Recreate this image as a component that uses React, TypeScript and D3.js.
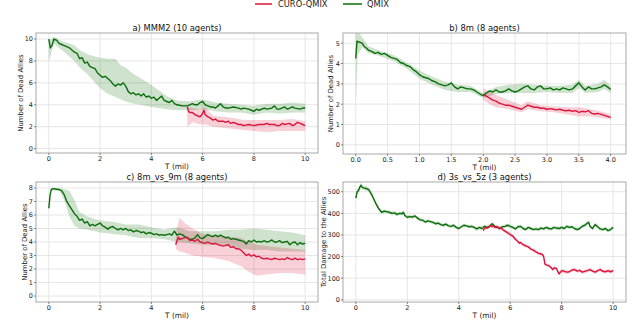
import React from 'react';
import * as d3 from 'd3';

const GREEN = '#0a6e0a';
const RED = '#dc143c';
const FONT = 'DejaVu Sans, sans-serif';

const seriesNames = ['CURO-QMIX', 'QMIX'];
const titles = ['a) MMM2 (10 agents)', 'b) 8m (8 agents)', 'c) 8m_vs_9m (8 agents)', 'd) 3s_vs_5z (3 agents)'];
const yLabels = ['Number of Dead Allies', 'Number of Dead Allies', 'Number of Dead Allies', 'Total Damage to the Allies'];
const xTicks10 = [0, 2, 4, 6, 8, 10];
const xTicks4 = [0, 0.5, 1, 1.5, 2, 2.5, 3, 3.5, 4];
const yTicksA = [0, 2, 4, 6, 8, 10];
const yTicksB = [0, 1, 2, 3, 4, 5];
const yTicksC = [0, 1, 2, 3, 4, 5, 6, 7, 8];
const yTicksD = [0, 100, 200, 300, 400, 500];

// Panel a: [T, mean]
const aQmix = [[0,10],[0.06,9.2],[0.12,9.4],[0.2,10.0],[0.3,9.9],[0.4,9.6],[0.5,9.5],[0.6,9.4],[0.7,9.3],[0.8,9.2],[0.9,9.0],[1.0,8.8],[1.1,8.7],[1.2,8.2],[1.3,8.3],[1.4,7.8],[1.5,7.9],[1.6,7.5],[1.7,7.4],[1.8,7.3],[1.9,6.9],[2.0,6.7],[2.1,6.5],[2.2,6.6],[2.3,6.4],[2.4,6.2],[2.5,5.9],[2.6,5.7],[2.7,5.9],[2.8,5.8],[2.9,6.0],[3.0,5.7],[3.1,5.2],[3.2,5.0],[3.3,5.1],[3.4,4.9],[3.5,5.0],[3.6,4.8],[3.7,5.0],[3.8,4.7],[3.9,4.8],[4.0,4.6],[4.1,4.7],[4.2,4.4],[4.3,4.6],[4.4,4.8],[4.5,4.4],[4.6,4.3],[4.7,4.2],[4.8,4.4],[4.9,4.1],[5.0,4.0],[5.2,3.9],[5.4,3.9],[5.5,4.0],[5.6,4.1],[5.7,4.0],[5.8,4.0],[5.9,4.2],[6.0,4.3],[6.1,4.0],[6.2,3.9],[6.3,3.8],[6.4,3.8],[6.5,3.7],[6.6,3.9],[6.7,4.1],[6.8,3.8],[6.9,3.7],[7.0,3.7],[7.2,3.8],[7.4,3.7],[7.5,3.6],[7.6,3.7],[7.8,3.6],[7.9,3.5],[8.0,3.4],[8.1,3.6],[8.2,3.5],[8.4,3.7],[8.5,3.6],[8.7,3.7],[8.8,3.9],[8.9,3.6],[9.0,3.6],[9.2,3.8],[9.3,3.6],[9.4,3.7],[9.5,3.8],[9.6,3.7],[9.8,3.6],[9.9,3.7],[10.0,3.7]];
// [T, low, high]
const aQmixBand = [[0,8.0,10],[0.06,8.4,9.9],[0.2,9.6,10.2],[0.5,9.0,9.8],[0.8,8.4,9.6],[1.0,8.0,9.4],[1.2,7.4,9.0],[1.5,6.8,8.6],[1.8,6.0,8.4],[2.0,5.5,8.3],[2.3,5.0,8.2],[2.6,4.7,8.2],[2.8,4.5,7.6],[3.0,4.3,7.4],[3.3,4.1,6.8],[3.6,4.0,6.4],[4.0,3.8,5.8],[4.3,3.7,5.3],[4.6,3.6,4.8],[5.0,3.5,4.4],[5.5,3.5,4.3],[6.0,3.6,4.5],[6.5,3.4,4.2],[7.0,3.3,4.1],[7.5,3.3,4.0],[8.0,3.1,3.9],[8.5,3.3,4.1],[9.0,3.2,4.1],[9.5,3.3,4.2],[10,3.3,4.1]];
const aCuro = [[5.4,3.8],[5.45,3.4],[5.5,3.3],[5.6,3.3],[5.7,3.1],[5.8,3.0],[5.9,2.9],[6.0,3.2],[6.05,3.5],[6.1,3.1],[6.2,2.9],[6.3,2.8],[6.4,2.6],[6.5,2.7],[6.6,2.5],[6.8,2.5],[6.9,2.4],[7.0,2.5],[7.1,2.3],[7.2,2.4],[7.4,2.2],[7.5,2.2],[7.6,2.1],[7.8,2.2],[8.0,2.1],[8.2,2.2],[8.4,2.2],[8.5,2.3],[8.6,2.2],[8.8,2.2],[8.9,2.1],[9.0,2.1],[9.1,2.3],[9.2,2.2],[9.4,2.3],[9.5,2.1],[9.6,2.2],[9.7,2.4],[9.8,2.3],[9.9,2.2],[10,2.1]];
const aCuroBand = [[5.4,2.0,3.9],[5.6,2.4,3.7],[5.9,2.2,3.6],[6.1,2.2,3.8],[6.4,2.0,3.0],[6.8,1.9,2.9],[7.2,1.8,2.8],[7.6,1.7,2.6],[8.0,1.6,2.6],[8.5,1.5,2.6],[9.0,1.6,2.6],[9.5,1.6,2.7],[10,1.6,2.5]];

// Panel b
const bQmix = [[0,4.25],[0.02,5.1],[0.06,5.05],[0.1,5.0],[0.13,4.85],[0.17,4.75],[0.2,4.65],[0.25,4.6],[0.3,4.5],[0.35,4.55],[0.4,4.45],[0.45,4.5],[0.5,4.4],[0.55,4.3],[0.6,4.25],[0.65,4.2],[0.7,4.05],[0.75,4.0],[0.8,3.9],[0.85,3.85],[0.9,3.7],[0.95,3.6],[1.0,3.45],[1.05,3.35],[1.1,3.3],[1.15,3.25],[1.2,3.15],[1.25,3.1],[1.3,3.0],[1.35,2.95],[1.4,2.9],[1.45,2.95],[1.5,3.05],[1.55,2.85],[1.6,2.75],[1.65,2.85],[1.7,2.8],[1.75,2.75],[1.8,2.75],[1.85,2.7],[1.9,2.6],[1.95,2.5],[2.0,2.42],[2.05,2.55],[2.1,2.65],[2.15,2.6],[2.2,2.7],[2.25,2.6],[2.3,2.6],[2.35,2.65],[2.4,2.75],[2.45,2.65],[2.5,2.6],[2.55,2.65],[2.6,2.75],[2.65,2.85],[2.7,2.9],[2.75,2.75],[2.8,2.7],[2.85,2.85],[2.9,2.9],[2.95,2.75],[3.0,2.75],[3.05,2.8],[3.1,2.7],[3.15,2.75],[3.2,2.7],[3.25,2.8],[3.3,2.75],[3.35,2.7],[3.4,2.75],[3.45,2.9],[3.5,3.05],[3.55,2.85],[3.6,2.7],[3.65,2.85],[3.7,2.75],[3.75,2.75],[3.8,2.8],[3.85,2.85],[3.9,2.95],[3.95,2.85],[4.0,2.72]];
const bQmixBand = [[0,2.0,5.6],[0.03,4.4,5.6],[0.1,4.8,5.3],[0.2,4.5,4.85],[0.4,4.35,4.6],[0.6,4.1,4.4],[0.8,3.75,4.05],[1.0,3.25,3.65],[1.2,2.95,3.35],[1.4,2.7,3.1],[1.6,2.6,2.95],[1.8,2.6,2.9],[2.0,2.3,2.55],[2.2,2.5,2.85],[2.4,2.55,2.95],[2.6,2.55,3.0],[2.8,2.55,2.95],[3.0,2.6,2.9],[3.2,2.55,2.9],[3.4,2.55,2.95],[3.5,2.8,3.2],[3.6,2.55,2.9],[3.8,2.6,3.0],[3.9,2.75,3.2],[4.0,2.55,2.9]];
const bCuro = [[2.0,2.45],[2.05,2.4],[2.1,2.3],[2.15,2.2],[2.2,2.15],[2.25,2.05],[2.3,2.0],[2.35,1.95],[2.4,1.95],[2.45,1.9],[2.5,1.85],[2.55,1.8],[2.6,1.75],[2.65,1.85],[2.7,1.95],[2.75,1.9],[2.8,1.85],[2.85,1.85],[2.9,1.8],[2.95,1.8],[3.0,1.75],[3.05,1.78],[3.1,1.75],[3.15,1.72],[3.2,1.75],[3.25,1.7],[3.3,1.68],[3.35,1.7],[3.4,1.65],[3.45,1.68],[3.5,1.6],[3.55,1.65],[3.6,1.62],[3.65,1.68],[3.7,1.55],[3.75,1.52],[3.8,1.55],[3.85,1.5],[3.9,1.45],[3.95,1.4],[4.0,1.35]];
const bCuroBand = [[2.0,2.2,2.8],[2.1,2.0,2.6],[2.2,1.85,2.45],[2.4,1.75,2.2],[2.6,1.6,1.95],[2.7,1.75,2.15],[2.9,1.65,1.95],[3.1,1.6,1.9],[3.3,1.5,1.85],[3.5,1.4,1.85],[3.7,1.4,1.75],[3.9,1.3,1.6],[4.0,1.25,1.5]];

// Panel c
const cQmix = [[0,6.5],[0.05,7.5],[0.1,7.9],[0.2,7.95],[0.3,7.9],[0.4,7.88],[0.5,7.8],[0.6,7.5],[0.7,7.0],[0.8,6.7],[0.9,6.4],[1.0,6.1],[1.1,5.9],[1.2,5.6],[1.3,5.7],[1.4,5.4],[1.5,5.5],[1.6,5.2],[1.7,5.3],[1.8,5.2],[1.9,5.3],[2.0,5.4],[2.1,5.2],[2.2,5.1],[2.3,4.95],[2.4,5.1],[2.5,5.15],[2.6,5.0],[2.7,4.9],[2.8,5.0],[2.9,4.9],[3.0,5.0],[3.1,4.85],[3.2,4.9],[3.3,4.75],[3.4,4.85],[3.5,4.8],[3.6,4.7],[3.7,4.75],[3.8,4.6],[3.9,4.7],[4.0,4.65],[4.1,4.55],[4.2,4.6],[4.3,4.5],[4.4,4.55],[4.5,4.5],[4.6,4.55],[4.7,4.6],[4.8,4.5],[4.9,4.8],[5.0,4.5],[5.1,4.6],[5.2,4.55],[5.3,4.4],[5.4,4.3],[5.5,4.2],[5.6,4.2],[5.7,4.3],[5.8,4.55],[5.9,4.3],[6.0,4.25],[6.1,4.4],[6.2,4.55],[6.3,4.45],[6.4,4.4],[6.5,4.5],[6.6,4.4],[6.7,4.5],[6.8,4.4],[6.9,4.3],[7.0,4.35],[7.1,4.2],[7.2,4.25],[7.3,4.2],[7.4,4.15],[7.5,4.1],[7.6,4.05],[7.7,3.85],[7.8,4.1],[7.9,4.0],[8.0,4.15],[8.1,4.0],[8.2,4.05],[8.3,4.0],[8.4,4.1],[8.5,4.0],[8.6,4.05],[8.7,4.15],[8.8,4.0],[8.9,4.0],[9.0,4.1],[9.1,3.95],[9.2,4.0],[9.3,4.05],[9.4,3.8],[9.5,3.95],[9.6,4.0],[9.7,3.8],[9.8,3.95],[9.9,3.85],[10,3.9]];
const cQmixBand = [[0,6.4,6.7],[0.1,7.8,8.0],[0.4,7.8,8.0],[0.6,7.1,7.9],[0.8,5.9,7.8],[1.0,5.2,7.1],[1.2,5.0,6.2],[1.5,4.9,5.9],[1.8,4.8,5.7],[2.0,4.7,5.6],[2.5,4.6,5.5],[3.0,4.5,5.3],[3.5,4.3,5.3],[4.0,4.3,5.1],[4.5,4.2,4.9],[5.0,4.0,5.1],[5.5,3.9,4.8],[6.0,3.8,4.8],[6.5,3.8,4.8],[7.0,3.7,4.9],[7.5,3.5,4.9],[8.0,3.4,5.0],[8.5,3.4,4.9],[9.0,3.3,4.8],[9.5,3.3,4.7],[10,3.3,4.5]];
const cCuro = [[4.95,3.8],[5.0,4.1],[5.05,4.35],[5.1,4.2],[5.2,4.25],[5.3,4.3],[5.4,4.35],[5.5,4.1],[5.6,4.15],[5.7,4.05],[5.8,4.2],[5.9,4.0],[6.0,3.95],[6.1,3.9],[6.2,4.0],[6.3,3.9],[6.4,3.85],[6.5,3.9],[6.6,3.8],[6.7,3.75],[6.8,3.7],[6.9,3.75],[7.0,3.8],[7.1,3.6],[7.2,3.65],[7.3,3.5],[7.4,3.5],[7.5,3.4],[7.6,3.2],[7.7,3.0],[7.8,3.1],[7.9,2.95],[8.0,3.05],[8.1,2.9],[8.2,2.95],[8.3,2.8],[8.4,2.75],[8.5,2.8],[8.6,2.75],[8.7,2.7],[8.8,2.8],[8.9,2.75],[9.0,2.7],[9.1,2.75],[9.2,2.7],[9.3,2.85],[9.4,2.75],[9.5,2.7],[9.6,2.8],[9.7,2.7],[9.8,2.75],[9.9,2.7],[10,2.75]];
const cCuroBand = [[4.95,3.5,4.6],[5.1,3.3,5.8],[5.3,3.2,5.4],[5.6,3.0,5.0],[6.0,2.9,4.6],[6.5,2.8,4.5],[7.0,2.6,4.4],[7.5,2.2,4.3],[7.8,1.8,4.0],[8.1,1.5,3.8],[8.5,1.6,3.7],[9.0,1.7,3.6],[9.5,1.7,3.5],[10,1.6,3.4]];

// Panel d: [T, mean, spread]
const dQmix = [[0,470,12],[0.05,500,14],[0.1,505,12],[0.15,520,12],[0.2,530,12],[0.25,520,10],[0.3,518,10],[0.4,515,10],[0.5,510,10],[0.6,490,9],[0.7,465,9],[0.8,440,9],[0.9,420,8],[1.0,405,8],[1.1,410,8],[1.2,408,8],[1.3,405,8],[1.4,400,8],[1.5,402,8],[1.6,395,8],[1.7,400,8],[1.8,398,8],[1.85,405,8],[1.9,390,8],[2.0,382,8],[2.1,385,8],[2.2,383,8],[2.3,388,8],[2.4,378,8],[2.5,370,8],[2.6,368,8],[2.7,360,8],[2.8,365,8],[2.9,362,8],[3.0,358,8],[3.1,352,8],[3.2,355,8],[3.3,348,8],[3.4,345,8],[3.5,350,8],[3.6,342,8],[3.7,340,8],[3.8,345,8],[3.9,335,8],[4.0,330,8],[4.1,338,8],[4.2,345,8],[4.3,342,8],[4.4,338,8],[4.5,340,8],[4.6,335,8],[4.7,328,8],[4.8,335,8],[4.9,330,8],[5.0,340,8],[5.1,335,8],[5.2,340,8],[5.3,352,8],[5.4,340,8],[5.5,335,8],[5.6,330,8],[5.7,338,8],[5.8,340,8],[5.9,345,8],[6.0,340,8],[6.1,335,8],[6.2,328,8],[6.3,338,8],[6.4,340,8],[6.5,330,8],[6.6,325,8],[6.7,335,8],[6.8,330,8],[6.9,325,8],[7.0,328,8],[7.1,325,8],[7.2,332,8],[7.3,328,8],[7.4,335,8],[7.5,330,8],[7.6,328,8],[7.7,335,8],[7.8,332,8],[7.9,330,8],[8.0,335,8],[8.1,330,8],[8.2,340,8],[8.3,335,8],[8.4,338,8],[8.5,330,8],[8.6,325,8],[8.7,330,8],[8.8,340,8],[8.9,345,8],[9.0,355,9],[9.05,358,9],[9.1,340,9],[9.2,330,8],[9.3,348,8],[9.4,338,8],[9.5,328,8],[9.6,325,8],[9.7,330,8],[9.8,320,8],[9.9,325,8],[10,335,8]];
const dCuro = [[4.95,320,8],[5.0,330,8],[5.05,335,8],[5.1,332,8],[5.2,340,8],[5.25,345,8],[5.3,338,8],[5.35,342,8],[5.4,335,8],[5.5,338,8],[5.6,330,8],[5.65,335,8],[5.7,325,8],[5.8,318,8],[5.9,310,8],[6.0,302,8],[6.1,295,8],[6.2,280,8],[6.3,270,8],[6.35,262,8],[6.4,265,8],[6.5,255,8],[6.6,250,8],[6.7,245,8],[6.8,235,8],[6.9,230,8],[7.0,222,8],[7.1,215,8],[7.2,212,8],[7.25,210,8],[7.3,200,8],[7.35,165,8],[7.4,162,8],[7.5,158,8],[7.6,148,8],[7.65,140,8],[7.7,148,8],[7.8,145,8],[7.85,130,8],[7.9,120,8],[8.0,135,8],[8.1,132,8],[8.2,128,8],[8.3,130,8],[8.4,138,8],[8.5,140,8],[8.6,133,8],[8.7,136,8],[8.8,128,8],[8.9,132,8],[9.0,135,8],[9.1,140,8],[9.2,133,8],[9.3,128,8],[9.4,135,8],[9.5,140,8],[9.6,132,8],[9.7,130,8],[9.8,135,8],[9.9,130,8],[10,135,8]];

type Pt = number[];
interface Cfg {
  id: string;
  title: string;
  yLabel: string;
  box: [number, number, number, number];
  xDomain: [number, number];
  yDomain: [number, number];
  xTicks: number[];
  yTicks: number[];
  xFmt: (v: number) => string;
  yLabelX: number;
  qmix: Pt[];
  qmixBand?: Pt[];
  curo: Pt[];
  curoBand?: Pt[];
}

const panels: Cfg[] = [
  { id: 'a', title: titles[0], yLabel: yLabels[0], box: [36, 33, 318, 153], xDomain: [-0.5, 10.5], yDomain: [-0.4, 10.55], xTicks: xTicks10, yTicks: yTicksA, xFmt: d3.format('d'), yLabelX: 21, qmix: aQmix, qmixBand: aQmixBand, curo: aCuro, curoBand: aCuroBand },
  { id: 'b', title: titles[1], yLabel: yLabels[1], box: [343, 33, 626, 154], xDomain: [-0.2, 4.24], yDomain: [-0.45, 5.5], xTicks: xTicks4, yTicks: yTicksB, xFmt: d3.format('.1f'), yLabelX: 331.5, qmix: bQmix, qmixBand: bQmixBand, curo: bCuro, curoBand: bCuroBand },
  { id: 'c', title: titles[2], yLabel: yLabels[2], box: [36, 182, 318, 302], xDomain: [-0.5, 10.5], yDomain: [-0.44, 8.44], xTicks: xTicks10, yTicks: yTicksC, xFmt: d3.format('d'), yLabelX: 25, qmix: cQmix, qmixBand: cQmixBand, curo: cCuro, curoBand: cCuroBand },
  { id: 'd', title: titles[3], yLabel: yLabels[3], box: [343, 182, 626, 302], xDomain: [-0.5, 10.5], yDomain: [-10, 545], xTicks: xTicks10, yTicks: yTicksD, xFmt: d3.format('d'), yLabelX: 324, qmix: dQmix, curo: dCuro },
];

function toBand(series: Pt[], band?: Pt[]): Pt[] {
  if (band) return band;
  return series.map((p) => [p[0], p[1] - p[2], p[1] + p[2]]);
}

function Panel({ cfg }: { cfg: Cfg }) {
  const [l, t, r, b] = cfg.box;
  const x = d3.scaleLinear().domain(cfg.xDomain).range([l, r]);
  const y = d3.scaleLinear().domain(cfg.yDomain).range([b, t]);
  const line = d3.line<Pt>().x((d) => x(d[0])).y((d) => y(d[1]));
  const area = d3.area<Pt>().x((d) => x(d[0])).y0((d) => y(d[1])).y1((d) => y(d[2]));
  const clipId = `clip-${cfg.id}`;
  const cx = (l + r) / 2;
  const cy = (t + b) / 2;
  return (
    <g>
      <defs>
        <clipPath id={clipId}>
          <rect x={l} y={t} width={r - l} height={b - t} />
        </clipPath>
      </defs>
      {cfg.xTicks.map((v) => (
        <line key={'gx' + v} x1={x(v)} x2={x(v)} y1={t} y2={b} stroke="#e3e3e3" strokeWidth={0.9} />
      ))}
      {cfg.yTicks.map((v) => (
        <line key={'gy' + v} x1={l} x2={r} y1={y(v)} y2={y(v)} stroke="#e3e3e3" strokeWidth={0.9} />
      ))}
      <g clipPath={`url(#${clipId})`}>
        <path d={area(toBand(cfg.qmix, cfg.qmixBand)) || ''} fill={GREEN} fillOpacity={0.2} />
        <path d={area(toBand(cfg.curo, cfg.curoBand)) || ''} fill={RED} fillOpacity={0.2} />
        <path d={line(cfg.qmix) || ''} fill="none" stroke={GREEN} strokeWidth={1.4} strokeLinejoin="round" />
        <path d={line(cfg.curo) || ''} fill="none" stroke={RED} strokeWidth={1.4} strokeLinejoin="round" />
      </g>
      <rect x={l} y={t} width={r - l} height={b - t} fill="none" stroke="#a8a8a8" strokeWidth={1} />
      {cfg.xTicks.map((v) => (
        <g key={'tx' + v}>
          <line x1={x(v)} x2={x(v)} y1={b} y2={b + 2} stroke="#666" strokeWidth={0.8} />
          <text x={x(v)} y={b + 7.8} fontSize={6.5} textAnchor="middle" fill="#222" fontFamily={FONT}>{cfg.xFmt(v)}</text>
        </g>
      ))}
      {cfg.yTicks.map((v) => (
        <g key={'ty' + v}>
          <line x1={l - 2} x2={l} y1={y(v)} y2={y(v)} stroke="#666" strokeWidth={0.8} />
          <text x={l - 3} y={y(v) + 2.4} fontSize={6.5} textAnchor="end" fill="#222" fontFamily={FONT}>{v}</text>
        </g>
      ))}
      <text x={cx} y={b + 16.2} fontSize={7.4} textAnchor="middle" fill="#222" fontFamily={FONT}>T (mil)</text>
      <text x={cx} y={t - 2} fontSize={8.4} textAnchor="middle" fill="#111" fontFamily={FONT}>{cfg.title}</text>
      <text transform={`translate(${cfg.yLabelX},${cy}) rotate(-90)`} fontSize={6.9} textAnchor="middle" dominantBaseline="middle" fill="#222" fontFamily={FONT}>{cfg.yLabel}</text>
    </g>
  );
}

export default function App() {
  return (
    <svg width={640} height={336} style={{ position: 'absolute', left: 0, top: 0, background: '#fff' }}>
      <rect x={0} y={0} width={640} height={336} fill="#fff" />
      <line x1={255} x2={272} y1={4} y2={4} stroke={RED} strokeWidth={1.5} />
      <text x={278} y={7} fontSize={8.3} fill="#222" fontFamily={FONT}>{seriesNames[0]}</text>
      <line x1={343} x2={362} y1={4} y2={4} stroke={GREEN} strokeWidth={1.5} />
      <text x={367} y={7} fontSize={8.3} fill="#222" fontFamily={FONT}>{seriesNames[1]}</text>
      {panels.map((p) => (
        <Panel key={p.id} cfg={p} />
      ))}
    </svg>
  );
}
